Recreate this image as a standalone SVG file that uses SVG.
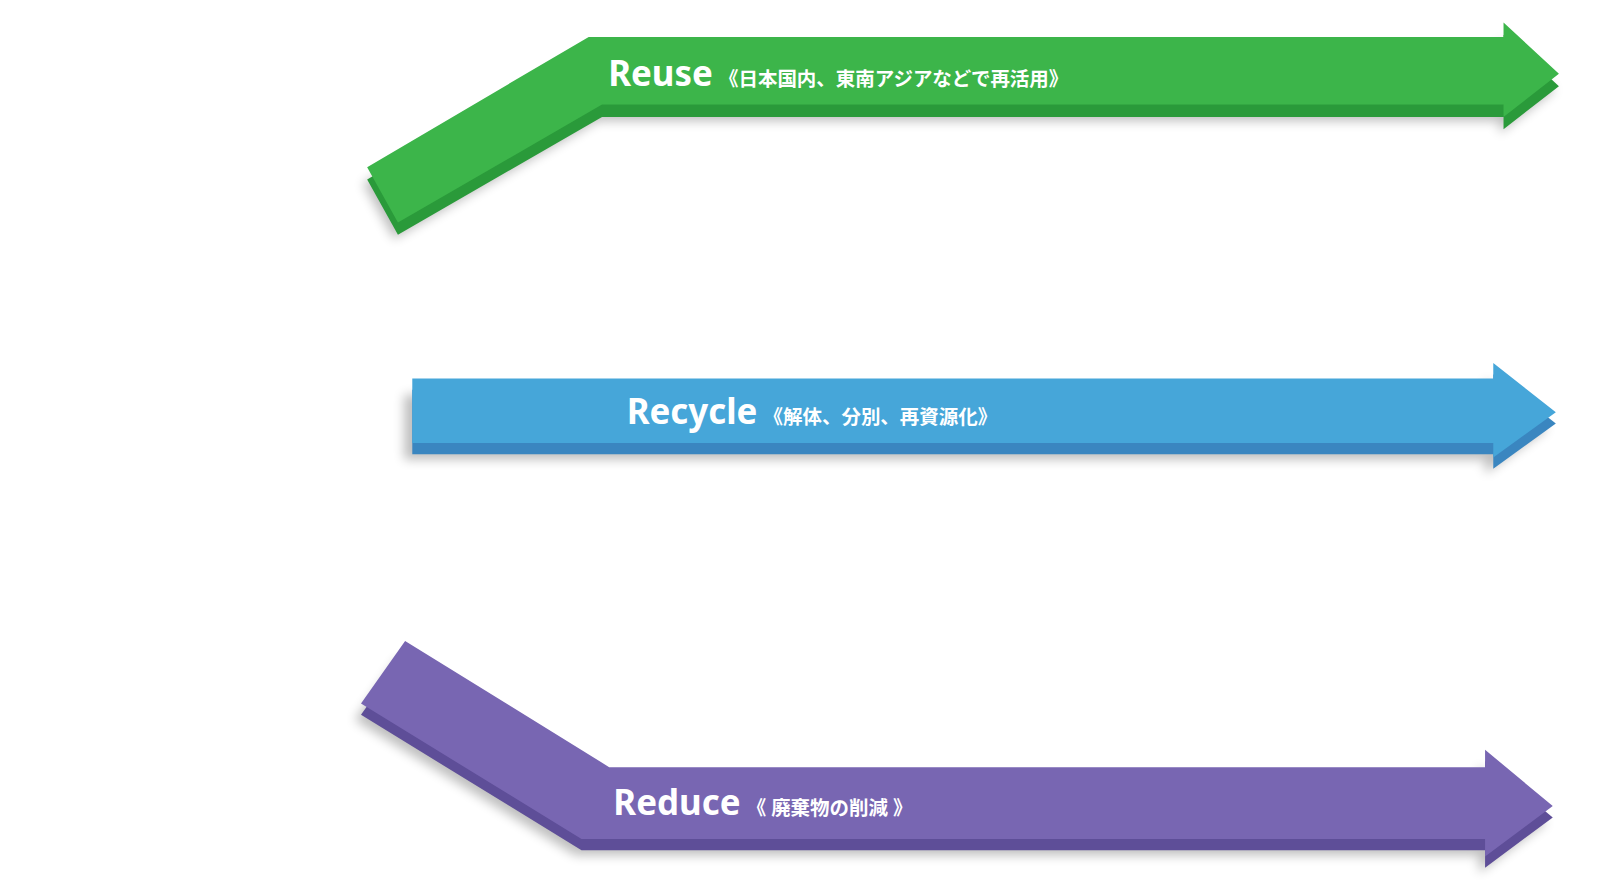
<svg xmlns="http://www.w3.org/2000/svg" width="1600" height="892" viewBox="0 0 1600 892">
<style>
.t{font-family:"Noto Sans","Noto Sans CJK JP",sans-serif;font-weight:bold;fill:#fff}
.big{font-size:34px}.sm{font-size:19px}
</style>
<defs><filter id="sh" x="-10%" y="-20%" width="120%" height="160%"><feGaussianBlur stdDeviation="5"/></filter></defs>
<rect width="1600" height="892" fill="#fff"/>
<g transform="scale(1.0256)">
<g id="reuse">
<polygon points="358,163 574,36 1466,36 1466,22 1520,72 1466,114 1466,102 587,102 388,217" fill="#000" opacity="0.25" filter="url(#sh)" transform="translate(-4,16)"/>
<polygon points="358,175 574,48 1466,48 1466,34 1520,84 1466,126 1466,114 587,114 388,229" fill="#2a9a3a"/>
<polygon points="358,163 574,36 1466,36 1466,22 1520,72 1466,114 1466,102 587,102 388,217" fill="#3cb54a"/>
<text class="t" x="593" y="84"><tspan class="big">Reuse</tspan><tspan class="sm" dx="6">《日本国内、東南アジアなどで再活用》</tspan></text>
</g>
<g id="recycle">
<polygon points="402,369 1456,369 1456,354 1517,402 1456,446 1456,432 402,432" fill="#000" opacity="0.25" filter="url(#sh)" transform="translate(-8,16)"/>
<polygon points="402,380 1456,380 1456,365 1517,413 1456,457 1456,443 402,443" fill="#3a86c0"/>
<polygon points="402,369 1456,369 1456,354 1517,402 1456,446 1456,432 402,432" fill="#46a6d9"/>
<text class="t" x="611" y="413"><tspan class="big">Recycle</tspan><tspan class="sm" dx="6">《解体、分別、再資源化》</tspan></text>
</g>
<g id="reduce">
<polygon points="395,625 594,748 1448,748 1448,731 1514,786 1448,835 1448,818 567,818 352,686" fill="#000" opacity="0.25" filter="url(#sh)" transform="translate(-6,16)"/>
<polygon points="395,636 594,759 1448,759 1448,742 1514,797 1448,846 1448,829 567,829 352,697" fill="#5e4e98"/>
<polygon points="395,625 594,748 1448,748 1448,731 1514,786 1448,835 1448,818 567,818 352,686" fill="#7866b2"/>
<text class="t" x="598" y="795"><tspan class="big">Reduce</tspan><tspan class="sm" dx="6">《 廃棄物の削減 》</tspan></text>
</g>
</g>
<g id="connectors"/>
</svg>
